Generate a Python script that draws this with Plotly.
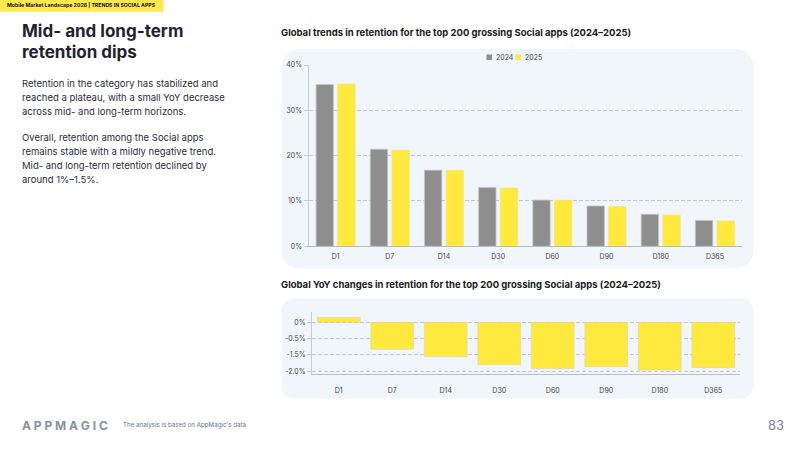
import plotly.graph_objects as go

W, H = 800, 450

categories = ["D1", "D7", "D14", "D30", "D60", "D90", "D180", "D365"]
ret_2024 = [35.7, 21.4, 16.8, 13.0, 10.2, 8.9, 7.05, 5.7]
ret_2025 = [35.8, 21.2, 16.75, 12.85, 10.15, 8.75, 6.9, 5.6]
yoy_change = [0.2, -1.10, -1.40, -1.73, -1.89, -1.81, -1.95, -1.85]
series_names = ["2024", "2025"]
top_tickvals = [0, 10, 20, 30, 40]
top_ticktext = ["0%", "10%", "20%", "30%", "40%"]
yoy_tickvals = [0, -2 / 3, -4 / 3, -2]
yoy_ticktext = ["0%", "-0.5%", "-1.5%", "-2.0%"]

GRAY = "#8e8e8e"
YELLOW = "#FFE93F"
PANEL = "#F1F6FC"
FONT = "Inter"


def px(x):
    return x / W


def py(y):
    return 1 - y / H


def rounded(x0, y0, x1, y1, r):
    rx, ry = r / W, r / H
    X0, X1 = px(x0), px(x1)
    Y0, Y1 = py(y0), py(y1)
    return (f"M {X0+rx},{Y0} L {X1-rx},{Y0} Q {X1},{Y0} {X1},{Y0-ry} "
            f"L {X1},{Y1+ry} Q {X1},{Y1} {X1-rx},{Y1} "
            f"L {X0+rx},{Y1} Q {X0},{Y1} {X0},{Y1+ry} "
            f"L {X0},{Y0-ry} Q {X0},{Y0} {X0+rx},{Y0} Z")


fig = go.Figure()
fig.add_trace(go.Bar(x=categories, y=ret_2024, name=series_names[0],
                     marker=dict(color=GRAY, line=dict(color="#c4c4c4", width=0.8)),
                     xaxis="x", yaxis="y"))
fig.add_trace(go.Bar(x=categories, y=ret_2025, name=series_names[1],
                     marker=dict(color=YELLOW, line=dict(color="#f5e67a", width=0.8)),
                     xaxis="x", yaxis="y"))
fig.add_trace(go.Bar(x=categories, y=yoy_change, name="YoY",
                     marker=dict(color=YELLOW, line=dict(color="#d9d4b0", width=0.6)),
                     xaxis="x2", yaxis="y2", width=0.8))

tickfont = dict(family=FONT, size=7, color="#444444")
grid = dict(showgrid=True, gridcolor="#c4c8ce", griddash="4px,2px", gridwidth=1)

fig.update_layout(
    width=W, height=H, autosize=False,
    margin=dict(l=0, r=0, t=0, b=0, pad=0, autoexpand=False),
    paper_bgcolor="white", plot_bgcolor="rgba(0,0,0,0)",
    barmode="group", bargap=0.2, bargroupgap=0.2,
    font=dict(family=FONT),
    showlegend=False,
    xaxis=dict(domain=[px(308.5), px(742)], anchor="y", showline=True, linecolor="#b8bcc4",
               tickfont=tickfont, ticks="", showgrid=False, automargin=False,
               ticklabelstandoff=3),
    yaxis=dict(domain=[py(246.3), py(65)], range=[0, 40], anchor="x", tickvals=top_tickvals,
               ticktext=top_ticktext, tickfont=tickfont, showline=True, linecolor="#c8ccd2",
               ticks="outside", ticklen=4, tickcolor="#c8ccd2", zeroline=False,
               automargin=False, **grid),
    xaxis2=dict(domain=[px(312), px(740)], anchor="y2", showline=True, linecolor="#b8bcc4",
                tickfont=tickfont, ticks="", showgrid=False, automargin=False,
                ticklabelstandoff=9),
    yaxis2=dict(domain=[py(374.3), py(312)], range=[-2.122, 0.42], anchor="x2",
                tickvals=yoy_tickvals, ticktext=yoy_ticktext, tickfont=tickfont,
                showline=True, linecolor="#c8ccd2", ticks="outside", ticklen=4,
                tickcolor="#c8ccd2", zeroline=False, automargin=False, **grid),
)

shapes = [
    dict(type="path", xref="paper", yref="paper", path=rounded(281.5, 49, 753.5, 268.5, 20),
         fillcolor=PANEL, line=dict(width=0), layer="below"),
    dict(type="path", xref="paper", yref="paper", path=rounded(281.5, 298.5, 753.5, 398.5, 14),
         fillcolor=PANEL, line=dict(width=0), layer="below"),
    dict(type="rect", xref="paper", yref="paper", x0=0, x1=px(163.5), y0=py(11.7), y1=1,
         fillcolor="#FFE94D", line=dict(width=0), layer="below"),
    # legend keys
    dict(type="rect", xref="paper", yref="paper", x0=px(486.5), x1=px(492), y0=py(60), y1=py(54.5),
         fillcolor=GRAY, line=dict(width=0)),
    dict(type="rect", xref="paper", yref="paper", x0=px(515.5), x1=px(521), y0=py(60), y1=py(54.5),
         fillcolor=YELLOW, line=dict(width=0)),
]
fig.update_layout(shapes=shapes)


def note(text, x, y, size, color, bold=False, family=FONT, anchor="left"):
    if bold:
        text = f"<b>{text}</b>"
    fig.add_annotation(text=text, x=px(x), y=py(y), xref="paper", yref="paper",
                       xanchor=anchor, yanchor="middle", showarrow=False,
                       font=dict(family=family, size=size, color=color), align="left",
                       borderpad=0)


note(series_names[0], 494.5, 57.3, 7, "#444444")
note(series_names[1], 523.5, 57.3, 7, "#444444")

note("Mobile Market Landscape 2026 | TRENDS IN SOCIAL APPS", 6, 6, 5.2, "#111111", bold=True)
note("Mid- and long-term", 21, 31, 17, "#1f2233", bold=True)
note("retention dips", 21, 52, 17, "#1f2233", bold=True)

body1 = ["Retention in the category has stabilized and",
         "reached a plateau, with a small YoY decrease",
         "across mid- and long-term horizons."]
body2 = ["Overall, retention among the Social apps",
         "remains stable with a mildly negative trend.",
         "Mid- and long-term retention declined by",
         "around 1%–1.5%."]
for i, line in enumerate(body1):
    note(line, 21, 83.5 + i * 13.9, 9.5, "#2b2e3a")
for i, line in enumerate(body2):
    note(line, 21, 137.5 + i * 13.9, 9.5, "#2b2e3a")

note("Global trends in retention for the top 200 grossing Social apps (2024–2025)", 280, 33, 9.5,
     "#1a1a1a", bold=True)
note("Global YoY changes in retention for the top 200 grossing Social apps (2024–2025)", 280, 284.5,
     9.5, "#1a1a1a", bold=True)

note("A P P M A G I C", 21, 425, 12, "#8a90a0", bold=True)
note("The analysis is based on AppMagic's data.", 121.5, 425, 6.2, "#6b7285")
note("83", 785, 425, 13, "#7d8597", anchor="right")

fig.write_html("out.html")
